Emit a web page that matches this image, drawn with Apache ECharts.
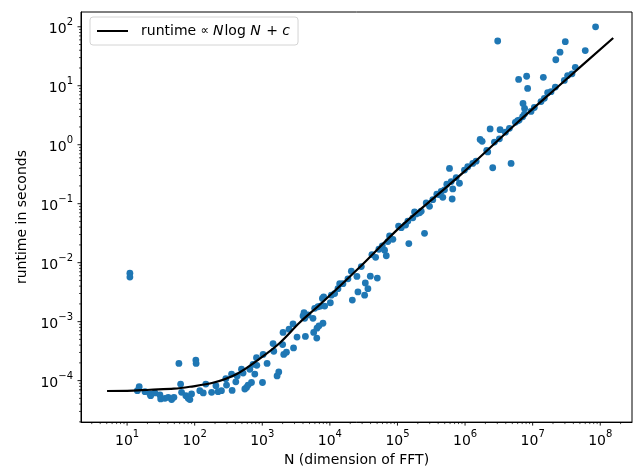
<!DOCTYPE html>
<html><head><meta charset="utf-8">
<script src="https://cdn.jsdelivr.net/npm/echarts@6/dist/echarts.min.js"></script>
<style>html,body{margin:0;padding:0;background:#fff}#c{width:638px;height:472px}</style>
</head><body><div id="c"></div>
<script>
// ---- data ----
const sizesN = [
 11.0, 11.0, 14.2, 15.1, 18.4, 21.8, 22.3, 25.8, 30.6, 31.4, 36.3, 40.6, 45.6, 49.3, 58.4, 61.9, 64.0, 74.1, 80.2, 84.9, 89.9,
 104, 105, 119, 134, 146, 178, 206, 222, 249, 289, 296, 351, 358, 406, 425, 493, 520, 552, 585, 617, 654, 692, 731, 775, 821, 830,
 1007, 1028, 1178, 1445, 1480, 1656, 1754, 2000, 2028, 2078, 2277, 2489, 2851, 2900, 3267, 4009, 4145, 4246, 4345, 4750,
 5627, 5764, 5962, 6400, 6445, 6668, 6901, 7240, 7752, 7907, 8096, 8375,
 10160, 10520, 11770, 13170, 13960, 15620, 18510, 20780, 21490, 25130, 26010, 29190, 32660, 33440, 36550, 39660, 41880,
 47510, 50320, 53130, 59660, 64450, 68350, 72170, 76430, 85540,
 1.038e5, 1.138e5, 1.318e5, 1.425e5, 1.473e5, 1.688e5, 1.790e5, 1.896e5, 2.120e5, 2.247e5, 2.514e5, 2.663e5, 2.979e5,
 3.333e5, 3.819e5, 4.187e5, 4.436e5, 4.686e5, 4.966e5, 5.370e5, 5.884e5, 6.232e5, 6.445e5, 6.581e5, 7.385e5, 8.262e5, 9.795e5,
 1.096e6, 1.299e6, 1.458e6, 1.671e6, 1.790e6, 2.094e6, 2.165e6, 2.349e6, 2.566e6, 2.718e6, 3.04e6, 3.221e6, 3.296e6,
 3.951e6, 4.529e6, 4.797e6, 5.549e6, 6.000e6, 6.2e6, 6.31e6, 7.11e6, 7.2e6, 7.55e6, 7.6e6, 8.15e6, 8.43e6, 9.46e6,
 1.059e7, 1.330e7, 1.439e7, 1.489e7, 1.666e7, 1.871e7, 2.163e7, 2.2e7, 2.541e7, 2.940e7, 3.040e7, 3.289e7, 3.820e7, 4.274e7,
 6.000e7, 8.53e7
];
const runtimes = [
 6.64e-3, 5.69e-3, 6.75e-5, 7.87e-5, 6.49e-5, 5.94e-5, 5.56e-5, 6.18e-5, 5.71e-5, 4.90e-5, 5.01e-5, 5.21e-5, 4.77e-5, 5.21e-5, 1.96e-4, 8.73e-5, 6.32e-5, 5.56e-5, 5.01e-5, 4.77e-5, 5.94e-5,
 2.23e-4, 1.96e-4, 6.75e-5, 6.18e-5, 8.73e-5, 6.32e-5, 8.18e-5, 6.49e-5, 6.75e-5, 1.08e-4, 8.41e-5, 1.29e-4, 6.82e-5, 9.55e-5, 1.20e-4, 1.56e-4, 1.34e-4, 7.21e-5, 7.66e-5, 8.41e-5, 1.56e-4, 9.29e-5, 1.89e-4, 1.29e-4, 2.44e-4, 1.82e-4,
 9.29e-5, 2.78e-4, 1.96e-4, 4.25e-4, 3.15e-4, 1.20e-4, 1.40e-4, 4.09e-4, 6.57e-4, 2.78e-4, 3.03e-4, 7.46e-4, 9.19e-4, 3.58e-4, 5.48e-4, 1.25e-3, 1.42e-3, 1.14e-3, 5.62e-4, 1.30e-3,
 1.14e-3, 6.57e-4, 1.68e-3, 5.27e-4, 7.75e-4, 1.79e-3, 8.51e-4, 1.84e-3, 2.47e-3, 9.40e-4, 2.63e-3, 1.84e-3,
 2.09e-3, 2.81e-3, 2.99e-3, 3.62e-3, 4.40e-3, 4.40e-3, 5.33e-3, 7.18e-3, 2.32e-3, 5.85e-3, 3.19e-3, 8.60e-3, 2.81e-3, 4.52e-3, 3.62e-3, 5.90e-3, 0.0137,
 0.0123, 5.48e-3, 0.0169, 0.0193, 0.0163, 0.0131, 0.0228, 0.0284, 0.0249,
 0.0418, 0.0392, 0.0435, 0.0507, 0.0211, 0.0576, 0.0726, 0.0672, 0.0699, 0.0746, 0.0314, 0.103, 0.0904,
 0.117, 0.145, 0.142, 0.161, 0.128, 0.172, 0.214, 0.396, 0.237, 0.120, 0.178, 0.277, 0.222, 0.371,
 0.423, 0.481, 0.525, 1.23, 1.14, 0.803, 0.755, 1.85, 0.407, 1.11, 57.4, 1.26, 1.80,
 1.63, 1.90, 0.481, 2.40, 2.55, 12.8, 2.62, 2.98, 5.0, 3.31, 4.12, 14.5, 9.01, 3.67,
 4.28, 5.39, 13.9, 6.12, 7.63, 7.93, 9.48, 27.6, 37.1, 12.3, 55.8, 14.9, 15.9, 20.5,
 39.5, 99.6
];
// fitted curve
const fitN = [5.05, 10, 21.8, 49.3, 84.9, 185.8, 420, 918, 1812, 3580, 7070, 27540, 1.07e5, 4.18e5, 9.8e5, 6.35e6, 2.48e7, 1.556e8];
const fitRuntime = [6.67e-5, 6.70e-5, 7.0e-5, 7.29e-5, 7.87e-5, 9.18e-5, 1.30e-4, 2.36e-4, 4.35e-4, 9.66e-4, 1.93e-3, 8.38e-3, 0.0392, 0.151, 0.353, 2.55, 10.1, 64.4];
// axis settings
const xRange = [2.08, 2.95e8];
const yRange = [1.98e-5, 178];
const xDecades = [0, 1, 2, 3, 4, 5, 6, 7, 8];
const yDecades = [-5, -4, -3, -2, -1, 0, 1, 2];
const minorMultipliers = [2, 3, 4, 5, 6, 7, 8, 9];

function tickItems(decades, range) {
  const out = [];
  decades.forEach(function (d) {
    const base = Math.pow(10, d);
    if (base >= range[0] && base <= range[1]) out.push({ v: base, major: 1 });
    minorMultipliers.forEach(function (m) {
      const v = m * base;
      if (v >= range[0] && v <= range[1]) out.push({ v: v, major: 0 });
    });
  });
  return out;
}
const xTicks = tickItems(xDecades, xRange);
const yTicks = tickItems(yDecades, yRange);

const SUP = {'0':'0','1':'1','2':'2','3':'3','4':'4','5':'5','6':'6','7':'7','8':'8','9':'9','-':'−'};
function powLabel(value) {
  const l = Math.log10(value);
  const e = Math.round(l);
  if (Math.abs(l - e) > 1e-6) return '';
  const s = String(e).split('').map(c => SUP[c]).join('');
  return '{b|10}{s|' + s + '}';
}
const FONT = 'DejaVu Sans';
const labelRich = {
  b: { fontFamily: FONT, fontSize: 14, color: '#000', lineHeight: 19, verticalAlign: 'bottom' },
  s: { fontFamily: FONT, fontSize: 10, color: '#000', lineHeight: 12, verticalAlign: 'top' }
};

const chart = echarts.init(document.getElementById('c'), null, { renderer: 'canvas' });
chart.setOption({
  animation: false,
  backgroundColor: '#fff',
  grid: { left: 81, top: 12, width: 551, height: 415, show: true, borderColor: '#000', borderWidth: 1, backgroundColor: 'transparent' },
  legend: {
    left: 90, top: 17,
    data: [{ name: 'fit', icon: 'rect' }],
    itemWidth: 31, itemHeight: 2,
    padding: [7, 8, 7, 7],
    borderColor: '#d4d4d4', borderWidth: 1, borderRadius: 3, backgroundColor: 'rgba(255,255,255,0.8)',
    formatter: function () { return '{r|runtime }{m|∝ }{i|N}{r|log }{i|N}{r| + }{i|c}'; },
    textStyle: {
      fontFamily: FONT, fontSize: 14, color: '#000', padding: [0, 2, 0, 8],
      rich: {
        r: { fontFamily: FONT, fontSize: 14, color: '#000' },
        m: { fontFamily: FONT, fontSize: 12, color: '#000' },
        i: { fontFamily: FONT, fontSize: 14, color: '#000', fontStyle: 'italic', padding: [0, 1, 0, 0] }
      }
    }
  },
  xAxis: {
    type: 'log', logBase: 10, min: xRange[0], max: xRange[1],
    name: 'N (dimension of FFT)', nameLocation: 'middle', nameGap: 29,
    nameTextStyle: { fontFamily: FONT, fontSize: 14, color: '#000' },
    axisLine: { show: true, lineStyle: { color: '#000', width: 1 } },
    axisTick: { show: false }, minorTick: { show: false },
    splitLine: { show: false },
    axisLabel: { margin: 7, formatter: powLabel, rich: labelRich, showMinLabel: false, showMaxLabel: false }
  },
  yAxis: {
    type: 'log', logBase: 10, min: yRange[0], max: yRange[1],
    name: 'runtime in seconds', nameLocation: 'middle', nameGap: 52, nameRotate: 90,
    nameTextStyle: { fontFamily: FONT, fontSize: 14, color: '#000' },
    axisLine: { show: true, lineStyle: { color: '#000', width: 1 } },
    axisTick: { show: false }, minorTick: { show: false },
    splitLine: { show: false },
    axisLabel: { margin: 8, formatter: powLabel, rich: labelRich, showMinLabel: false, showMaxLabel: false }
  },
  series: [
    {
      name: 'points', type: 'scatter', symbol: 'circle', symbolSize: 6.8,
      itemStyle: { color: '#1f77b4', opacity: 1 },
      data: sizesN.map((n, i) => [n, runtimes[i]]), z: 2, silent: true
    },
    {
      name: 'fit', type: 'line', smooth: 0.3, symbol: 'none',
      lineStyle: { color: '#000', width: 2.2 }, itemStyle: { color: '#000' },
      data: fitN.map((n, i) => [n, fitRuntime[i]]), z: 3, silent: true
    },
    {
      name: 'xticks', type: 'custom', silent: true, clip: false, z: 4,
      data: xTicks.map(t => [t.v, yRange[0], t.major]),
      renderItem: function (params, api) {
        const p = api.coord([api.value(0), api.value(1)]);
        const len = api.value(2) ? 3.5 : 2;
        return { type: 'line', shape: { x1: p[0], y1: p[1], x2: p[0], y2: p[1] + len },
          style: { stroke: '#000', lineWidth: api.value(2) ? 0.9 : 0.7 } };
      }
    },
    {
      name: 'yticks', type: 'custom', silent: true, clip: false, z: 4,
      data: yTicks.map(t => [xRange[0], t.v, t.major]),
      renderItem: function (params, api) {
        const p = api.coord([api.value(0), api.value(1)]);
        const len = api.value(2) ? 3.5 : 2;
        return { type: 'line', shape: { x1: p[0] - len, y1: p[1], x2: p[0], y2: p[1] },
          style: { stroke: '#000', lineWidth: api.value(2) ? 0.9 : 0.7 } };
      }
    }
  ]
});
</script>
</body></html>
